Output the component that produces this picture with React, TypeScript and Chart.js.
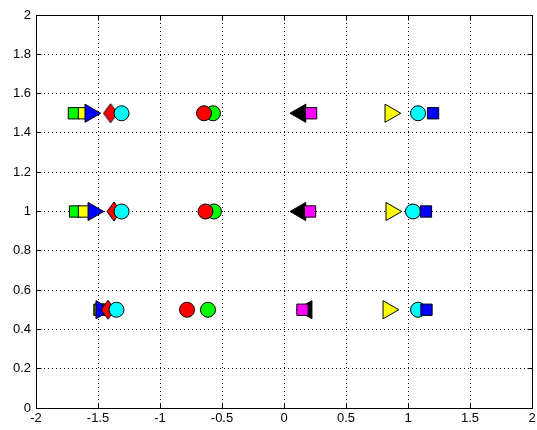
import React, { useEffect, useRef } from "react";
import { Chart, registerables } from "chart.js";

Chart.register(...registerables);

// ---- data ----
const rowY = [1.5, 1.0, 0.5];

const greenSquareX = [-1.694, -1.685, -1.488];
const yellowSquareX = [-1.613, -1.613, -1.48];
const blueTriangleX = [-1.5625, -1.538, -1.474];
const redDiamondX = [-1.399, -1.371, -1.419];
const cyanCircleLeftX = [-1.31, -1.31, -1.351];
const greenCircleX = [-0.573, -0.565, -0.613];
const redCircleX = [-0.645, -0.633, -0.782];
const blackTriangleX = [0.133, 0.133, 0.183];
const magentaSquareX = [0.218, 0.21, 0.149];
const yellowTriangleX = [0.857, 0.865, 0.841];
const cyanCircleRightX = [1.081, 1.04, 1.081];
const blueSquareX = [1.202, 1.145, 1.149];

const xTicks = [-2, -1.5, -1, -0.5, 0, 0.5, 1, 1.5, 2];
const xTickLabels = ["-2", "-1.5", "-1", "-0.5", "0", "0.5", "1", "1.5", "2"];
const yTicks = [0, 0.2, 0.4, 0.6, 0.8, 1, 1.2, 1.4, 1.6, 1.8, 2];
const yTickLabels = ["0", "0.2", "0.4", "0.6", "0.8", "1", "1.2", "1.4", "1.6", "1.8", "2"];

function makeDiamond(fill: string): HTMLCanvasElement {
  const c = document.createElement("canvas");
  const w = 16, h = 21;
  c.width = w;
  c.height = h;
  const g = c.getContext("2d")!;
  g.beginPath();
  g.moveTo(1, h / 2);
  g.lineTo(w / 2, 1);
  g.lineTo(w - 1, h / 2);
  g.lineTo(w / 2, h - 1);
  g.closePath();
  g.fillStyle = fill;
  g.fill();
  g.strokeStyle = "#000";
  g.lineWidth = 1;
  g.stroke();
  return c;
}

const framePlugin = {
  id: "frame",
  beforeDatasetsDraw(chart: any) {
    const { ctx, chartArea: a, scales } = chart;
    const al = (p: number) => Math.round(p - 0.5) + 0.5;
    const L = al(a.left), R = al(a.right), T = al(a.top), B = al(a.bottom);
    ctx.save();
    ctx.strokeStyle = "#000";
    ctx.lineWidth = 1;
    ctx.setLineDash([]);
    ctx.beginPath();
    ctx.rect(L, T, R - L, B - T);
    const tl = 5;
    for (const v of xTicks) {
      const x = al(scales.x.getPixelForValue(v));
      ctx.moveTo(x, B);
      ctx.lineTo(x, B - tl);
      ctx.moveTo(x, T);
      ctx.lineTo(x, T + tl);
    }
    for (const v of yTicks) {
      const y = al(scales.y.getPixelForValue(v));
      ctx.moveTo(L, y);
      ctx.lineTo(L + tl, y);
      ctx.moveTo(R, y);
      ctx.lineTo(R - tl, y);
    }
    ctx.stroke();
    ctx.restore();
  },
};

export default function App() {
  const ref = useRef<HTMLCanvasElement>(null);

  useEffect(() => {
    if (!ref.current) return;
    const diamond = makeDiamond("#ff0000");
    const pts = (xs: number[]) => xs.map((x, i) => ({ x, y: rowY[i] }));

    const series: any[] = [
      { label: "green square", xs: greenSquareX, style: "rect", color: "#00ff00", r: 8, rot: 0 },
      { label: "yellow square", xs: yellowSquareX, style: "rect", color: "#ffff00", r: 8, rot: 0 },
      { label: "blue triangle", xs: blueTriangleX, style: "triangle", color: "#0000ff", r: 10.5, rot: 90 },
      { label: "red diamond", xs: redDiamondX, style: diamond, color: "#ff0000", r: 10, rot: 0 },
      { label: "cyan circle L", xs: cyanCircleLeftX, style: "circle", color: "#00ffff", r: 7.5, rot: 0 },
      { label: "green circle", xs: greenCircleX, style: "circle", color: "#00ff00", r: 7.5, rot: 0 },
      { label: "red circle", xs: redCircleX, style: "circle", color: "#ff0000", r: 7.5, rot: 0 },
      { label: "black triangle", xs: blackTriangleX, style: "triangle", color: "#000000", r: 10.5, rot: 270 },
      { label: "magenta square", xs: magentaSquareX, style: "rect", color: "#ff00ff", r: 8, rot: 0 },
      { label: "yellow triangle", xs: yellowTriangleX, style: "triangle", color: "#ffff00", r: 10.5, rot: 90 },
      { label: "cyan circle R", xs: cyanCircleRightX, style: "circle", color: "#00ffff", r: 7.5, rot: 0 },
      { label: "blue square", xs: blueSquareX, style: "rect", color: "#0000ff", r: 8, rot: 0 },
    ];
    const n = series.length;
    const datasets = series.map((s, i) => ({
      label: s.label,
      data: pts(s.xs),
      pointStyle: s.style,
      pointRadius: s.r,
      pointRotation: s.rot,
      backgroundColor: s.color,
      borderColor: "#000",
      borderWidth: 1,
      showLine: false,
      order: n - i,
      clip: false as any,
    }));

    const font = { family: "'Liberation Sans', Arial, Helvetica, sans-serif", size: 13 };

    const chart = new Chart(ref.current, {
      type: "scatter",
      data: { datasets },
      options: {
        animation: false,
        responsive: false,
        events: [],
        layout: { autoPadding: false, padding: { left: 0, right: 5, top: 15, bottom: 0 } },
        plugins: { legend: { display: false }, tooltip: { enabled: false } },
        scales: {
          x: {
            type: "linear",
            min: -2,
            max: 2,
            afterBuildTicks: (s: any) => {
              s.ticks = xTicks.map((v) => ({ value: v }));
            },
            afterFit: (s: any) => {
              s.height = 22;
              s.paddingLeft = 0;
              s.paddingRight = 0;
              s.paddingTop = 0;
              s.paddingBottom = 0;
            },
            ticks: {
              color: "#000",
              font,
              padding: 3,
              maxRotation: 0,
              autoSkip: false,
              callback: (_v: any, i: number) => xTickLabels[i],
            },
            grid: { color: "#000", lineWidth: 1, drawTicks: false },
            border: { display: false, dash: [1, 3] },
          },
          y: {
            type: "linear",
            min: 0,
            max: 2,
            afterBuildTicks: (s: any) => {
              s.ticks = yTicks.map((v) => ({ value: v }));
            },
            afterFit: (s: any) => {
              s.width = 36;
              s.paddingLeft = 0;
              s.paddingRight = 0;
              s.paddingTop = 0;
              s.paddingBottom = 0;
            },
            ticks: {
              color: "#000",
              font,
              padding: 5,
              autoSkip: false,
              callback: (_v: any, i: number) => yTickLabels[i],
            },
            grid: { color: "#000", lineWidth: 1, drawTicks: false },
            border: { display: false, dash: [1, 3] },
          },
        },
      },
      plugins: [framePlugin],
    });
    return () => chart.destroy();
  }, []);

  return (
    <div style={{ position: "absolute", left: 0, top: 0, width: 537, height: 430, background: "#fff" }}>
      <canvas ref={ref} width={537} height={430} style={{ display: "block" }} />
    </div>
  );
}
